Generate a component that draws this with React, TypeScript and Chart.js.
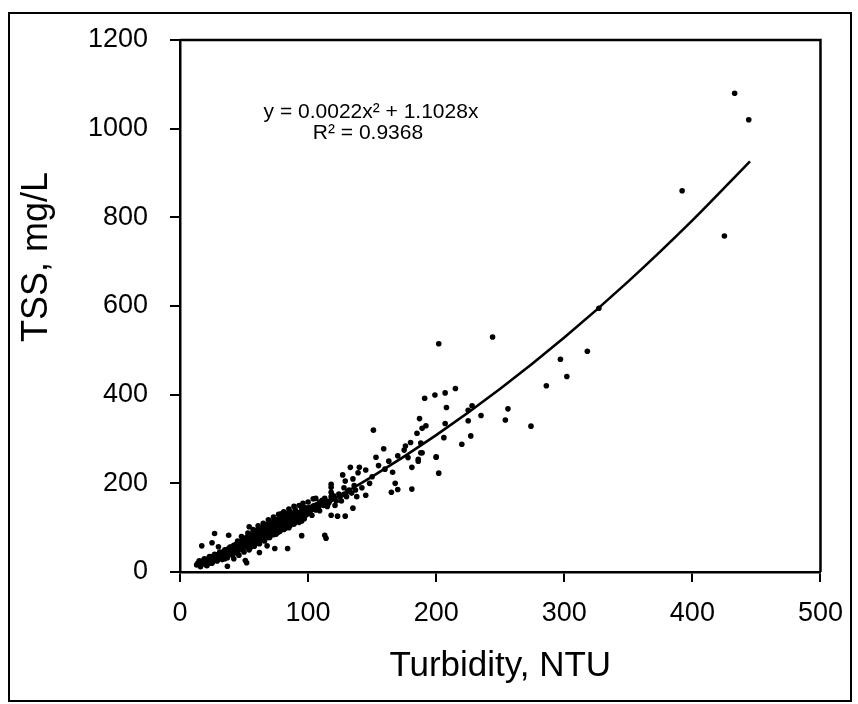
import { useEffect, useRef } from "react";
import { Chart, registerables } from "chart.js";

Chart.register(...registerables);

// Observed samples: [Turbidity NTU, TSS mg/L]
const observations: [number, number][] = [
  [13, 16], [14, 20], [15, 18], [16, 15], [17, 22], [18, 19], [18, 25], [19, 21], [20, 17], [20, 24],
  [21, 28], [22, 22], [22, 30], [23, 26], [24, 20], [24, 33], [25, 29], [26, 24], [26, 36], [27, 31],
  [28, 27], [28, 38], [29, 33], [30, 29], [30, 40], [31, 35], [32, 31], [32, 44], [33, 38], [34, 33],
  [34, 46], [35, 41], [36, 36], [36, 50], [37, 44], [38, 39], [38, 53], [39, 47], [40, 42], [40, 56],
  [41, 50], [42, 45], [42, 60], [43, 52], [44, 48], [44, 63], [45, 56], [46, 51], [46, 67], [47, 59],
  [48, 54], [48, 70], [49, 62], [50, 57], [50, 74], [51, 66], [52, 60], [52, 78], [53, 69], [54, 63],
  [54, 82], [55, 72], [56, 66], [56, 86], [57, 75], [58, 69], [58, 90], [59, 78], [60, 72], [60, 94],
  [61, 82], [62, 75], [62, 97], [63, 85], [64, 78], [64, 100], [65, 88], [66, 81], [66, 104], [67, 91],
  [68, 85], [68, 107], [69, 95], [70, 88], [70, 110], [71, 98], [72, 91], [72, 113], [73, 101], [74, 94],
  [74, 116], [75, 104], [76, 97], [76, 119], [77, 107], [78, 100], [78, 122], [79, 110], [80, 103], [80, 126],
  [81, 113], [82, 106], [82, 129], [83, 116], [84, 110], [84, 132], [85, 119], [86, 113], [86, 136], [87, 122],
  [88, 116], [89, 126], [90, 119], [90, 140], [91, 129], [92, 122], [93, 133], [94, 126], [95, 137], [96, 129],
  [97, 140], [98, 133], [99, 143], [100, 136], [101, 146], [102, 139], [104, 149], [105, 142], [107, 152], [108, 146],
  [110, 156], [112, 150], [114, 160], [116, 155], [119, 165], [122, 160], [125, 170], [128, 175], [131, 182],
  [35, 30], [45, 70], [55, 55], [65, 95], [75, 85], [85, 125], [95, 115], [58, 80], [62, 88], [66, 92],
  [70, 96], [48, 62], [52, 68], [44, 55], [40, 50], [36, 45], [32, 37], [28, 32], [24, 27], [20, 20],
  [78, 111], [82, 117], [86, 124], [90, 130], [94, 118], [98, 145], [72, 102], [68, 96], [64, 90], [60, 84],
  [56, 76], [52, 72],
  [15, 25], [16, 12], [19, 30], [21, 14], [23, 35], [25, 20], [27, 40], [29, 25], [31, 45], [33, 28],
  [35, 50], [37, 32], [39, 56], [41, 38], [43, 60], [45, 42], [47, 68], [49, 50], [51, 75], [53, 55],
  [55, 82], [57, 60], [59, 88], [61, 66], [63, 94], [65, 72], [67, 100], [69, 78], [71, 106], [73, 84],
  [75, 112], [77, 90], [79, 118], [81, 96], [83, 124], [85, 100], [87, 130], [89, 108], [91, 136], [93, 112],
  [95, 128], [97, 120], [99, 130], [103, 128], [106, 140], [109, 138], [111, 162], [115, 148], [118, 170], [121, 150],
  [126, 160], [130, 170], [134, 178], [137, 185],
  [42, 30], [46, 38], [50, 45], [54, 50], [58, 58], [62, 64], [66, 70], [70, 78], [74, 86], [78, 92],
  [82, 98], [86, 105], [90, 112], [48, 80], [53, 88], [57, 96], [61, 104], [65, 110], [69, 118], [73, 124],
  [77, 130], [81, 136], [85, 142], [89, 148], [93, 150], [96, 155], [100, 158], [104, 165],
  [27, 87], [17, 59], [38, 83], [25, 66], [30, 57], [37, 13], [52, 21], [51, 26], [54, 102], [85, 106],
  [79, 131], [98, 128], [106, 166], [95, 145], [101, 136], [62, 44], [68, 59], [74, 53], [84, 53], [95, 82],
  [113, 83], [114, 76], [118, 191], [118, 198], [118, 180], [118, 128], [123, 126], [129, 126], [135, 144], [138, 170],
  [145, 173], [127, 219], [129, 205], [135, 210], [139, 224], [133, 236], [140, 236], [153, 259], [151, 320], [159, 278],
  [166, 225], [168, 200], [170, 186], [165, 180], [181, 187], [180, 292], [181, 236], [186, 250], [189, 269], [200, 259],
  [202, 223], [206, 303],
  [145, 230], [150, 215], [155, 240], [160, 232], [163, 250], [170, 262], [175, 275], [178, 258], [148, 200], [142, 190],
  [136, 195], [132, 185], [128, 190], [124, 176], [120, 172], [117, 160], [113, 166], [109, 158], [105, 150],
  [202, 515], [244, 530], [318, 498], [297, 480], [302, 441], [286, 420], [274, 329], [256, 368], [254, 343], [235, 353],
  [228, 375], [225, 365], [225, 341], [227, 307], [220, 288], [215, 414], [207, 404], [199, 399], [191, 392], [208, 371],
  [207, 335], [200, 260], [187, 346], [192, 330], [189, 324], [185, 313], [188, 291], [188, 269], [176, 284], [186, 254],
  [327, 595], [392, 860], [425, 758], [433, 1080], [444, 1020],
];

// Trend curve
const trendTurbidity = [13, 25, 50, 75, 100, 150, 200, 250, 300, 350, 400, 445];
const trendTss = [14.7, 28.9, 60.6, 95.1, 132.3, 214.9, 308.6, 413.2, 528.8, 655.5, 793.1, 926.4];

const xTicks = [0, 100, 200, 300, 400, 500];
const yTicks = [0, 200, 400, 600, 800, 1000, 1200];

const equationLines = ["y = 0.0022x\u00b2 + 1.1028x", "R\u00b2 = 0.9368"];
const xTitle = "Turbidity, NTU";
const yTitle = "TSS, mg/L";

const FONT = '"Liberation Sans", Arial, Helvetica, sans-serif';

export default function App() {
  const canvasRef = useRef<HTMLCanvasElement | null>(null);

  useEffect(() => {
    const canvas = canvasRef.current;
    if (!canvas) return;

    const framePlugin = {
      id: "framePlugin",
      beforeDraw(chart: any) {
        const { ctx, width, height } = chart;
        ctx.save();
        ctx.fillStyle = "#ffffff";
        ctx.fillRect(0, 0, width, height);
        ctx.restore();
      },
      afterDraw(chart: any) {
        const { ctx, chartArea } = chart;
        const { left, top, right, bottom } = chartArea;
        ctx.save();
        ctx.strokeStyle = "#000";
        ctx.lineWidth = 2.5;
        ctx.beginPath();
        ctx.moveTo(left, top);
        ctx.lineTo(right, top);
        ctx.lineTo(right, bottom);
        ctx.stroke();
        // outer frame
        ctx.lineWidth = 2;
        ctx.strokeRect(9, 13, 842, 688);
        // regression equation
        ctx.fillStyle = "#000";
        ctx.font = `21px ${FONT}`;
        ctx.textAlign = "center";
        ctx.textBaseline = "middle";
        ctx.fillText(equationLines[0], 371, 112);
        ctx.fillText(equationLines[1], 368, 133);
        // y axis title
        ctx.font = `36px ${FONT}`;
        ctx.translate(37, 257);
        ctx.rotate(-Math.PI / 2);
        ctx.fillText(yTitle, 0, 0);
        ctx.restore();
      },
    };

    const chart = new Chart(canvas, {
      type: "scatter",
      data: {
        datasets: [
          {
            type: "scatter",
            label: "Samples",
            data: observations.map(([x, y]) => ({ x, y })),
            pointRadius: 2.8,
            pointBackgroundColor: "#000",
            pointBorderWidth: 0,
            borderColor: "#000",
            showLine: false,
          },
          {
            type: "line",
            label: "Fit",
            data: trendTurbidity.map((x, i) => ({ x, y: trendTss[i] })),
            borderColor: "#000",
            borderWidth: 2.6,
            pointRadius: 0,
            cubicInterpolationMode: "monotone",
            fill: false,
          } as any,
        ],
      },
      options: {
        animation: false,
        responsive: false,
        devicePixelRatio: 1,
        layout: { padding: { top: 40, right: 32, left: 0, bottom: 0 } },
        plugins: {
          legend: { display: false },
          tooltip: { enabled: false },
        },
        scales: {
          x: {
            type: "linear",
            min: 0,
            max: 500,
            afterFit: (scale: any) => {
              scale.height = 132;
            },
            afterBuildTicks: (scale: any) => {
              scale.ticks = xTicks.map((v) => ({ value: v }));
            },
            ticks: {
              color: "#000",
              font: { family: FONT, size: 27 },
              padding: 15,
              maxRotation: 0,
              callback: (v: any) => String(v),
            },
            grid: {
              drawOnChartArea: false,
              drawTicks: true,
              tickLength: 10,
              color: "#000",
              lineWidth: 2,
            },
            border: { display: true, color: "#000", width: 2.5 },
            title: {
              display: true,
              text: xTitle,
              color: "#000",
              font: { family: FONT, size: 35 },
              padding: { top: 0, bottom: 17 },
            },
          },
          y: {
            type: "linear",
            min: 0,
            max: 1200,
            afterFit: (scale: any) => {
              scale.width = 180;
            },
            afterBuildTicks: (scale: any) => {
              scale.ticks = yTicks.map((v) => ({ value: v }));
            },
            ticks: {
              color: "#000",
              font: { family: FONT, size: 27 },
              padding: 22,
              callback: (v: any) => String(v),
            },
            grid: {
              drawOnChartArea: false,
              drawTicks: true,
              tickLength: 10,
              color: "#000",
              lineWidth: 2,
            },
            border: { display: true, color: "#000", width: 2.5 },
            title: { display: false },
          },
        },
      },
      plugins: [framePlugin],
    } as any);

    return () => {
      chart.destroy();
    };
  }, []);

  return (
    <div style={{ position: "absolute", left: 0, top: 0, width: 858, height: 704, background: "#fff" }}>
      <canvas ref={canvasRef} width={858} height={704} style={{ display: "block" }} />
    </div>
  );
}
